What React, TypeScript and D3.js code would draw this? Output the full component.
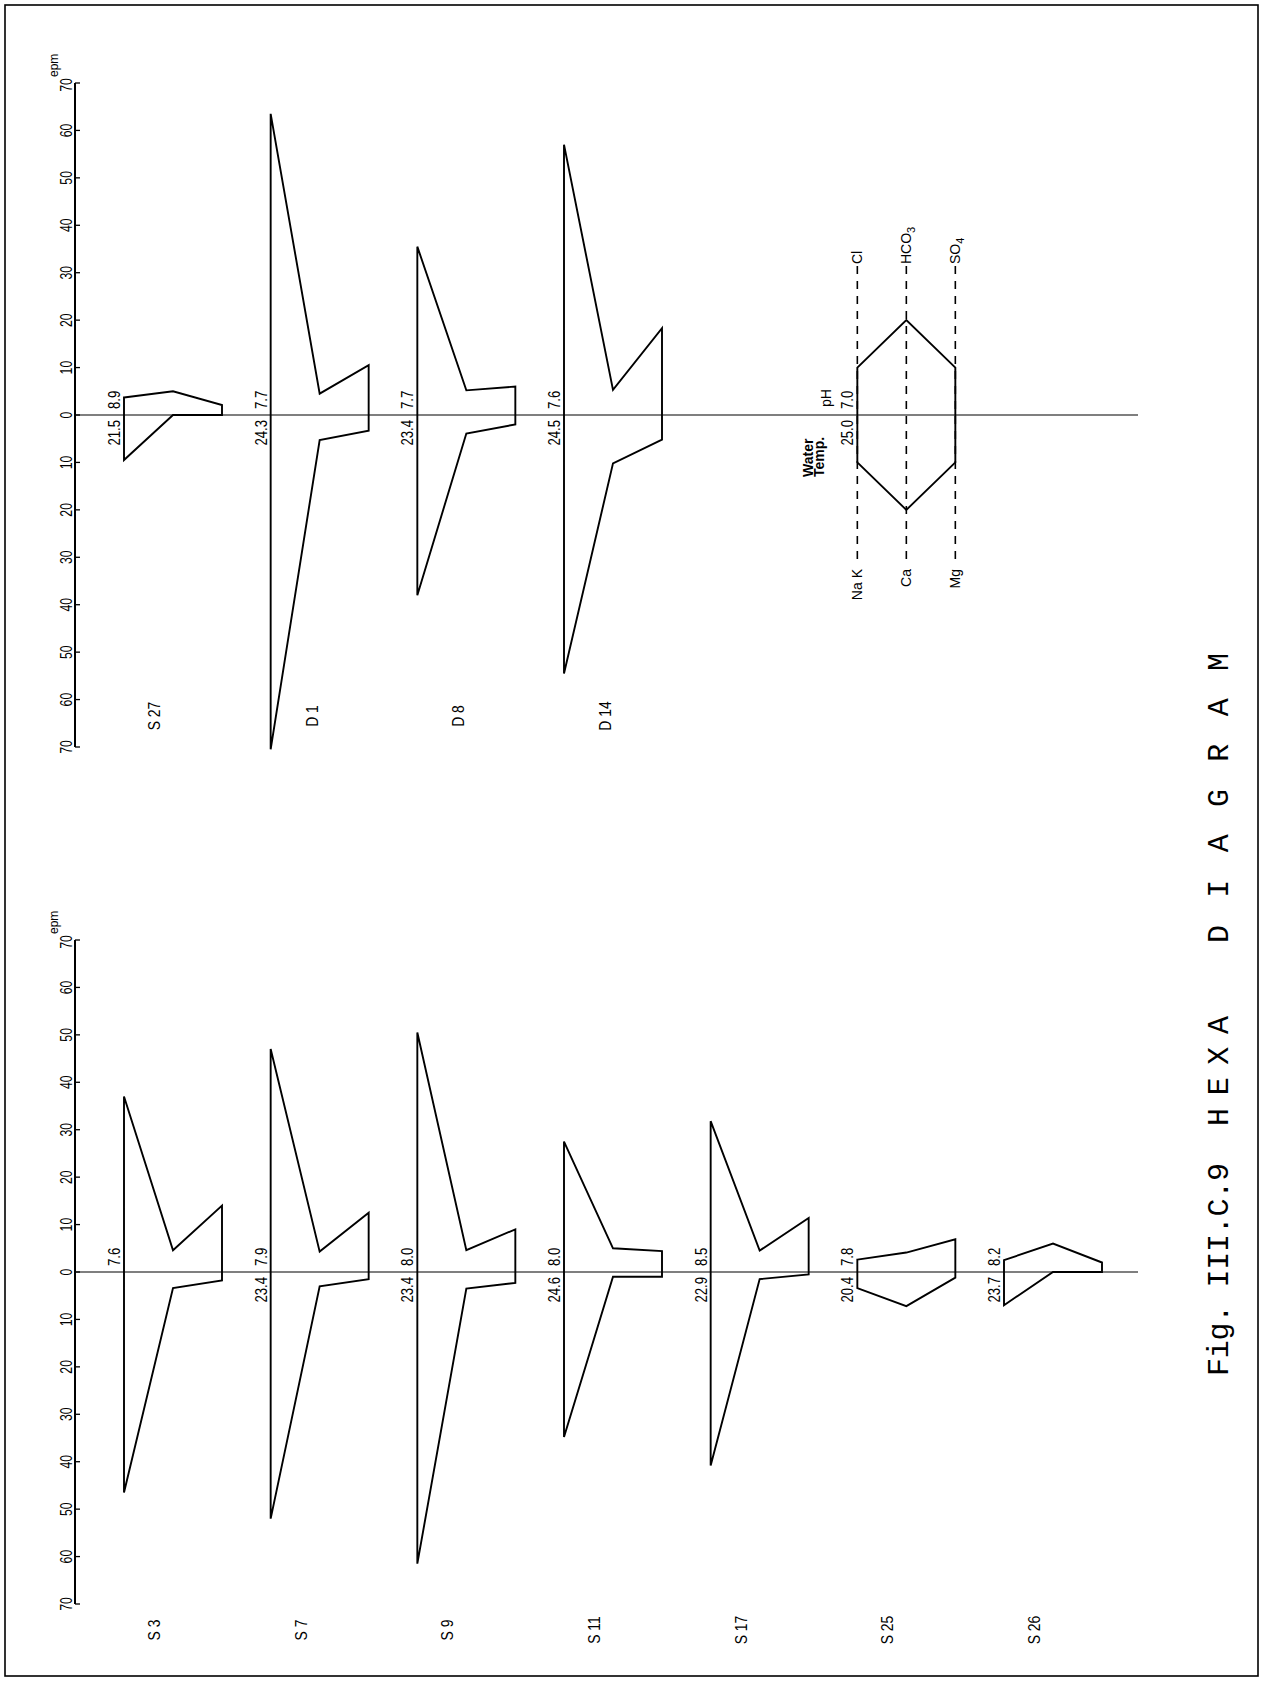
import React from "react";
import * as d3 from "d3";

const W = 1264;
const H = 1681;

// ---- data ----
const axisTicks = d3.range(-70, 71, 10);

const lowerNames = ["S 3", "S 7", "S 9", "S 11", "S 17", "S 25", "S 26"];
const lowerSlots = [0, 1, 2, 3, 4, 5, 6];
const lowerTemp = ["", "23.4", "23.4", "24.6", "22.9", "20.4", "23.7"];
const lowerPH = ["7.6", "7.9", "8.0", "8.0", "8.5", "7.8", "8.2"];
const lowerCl = [37, 47, 50.5, 27.5, 31.8, 2.6, 2.5];
const lowerHCO3 = [4.6, 4.3, 4.6, 5.0, 4.5, 4.1, 6.0];
const lowerSO4 = [14, 12.5, 9, 4.4, 11.4, 6.9, 2.0];
const lowerNaK = [46.5, 52, 61.5, 34.8, 40.8, 3.4, 7.0];
const lowerCa = [3.4, 3.0, 3.5, 1.0, 1.5, 7.2, 0];
const lowerMg = [1.8, 1.5, 2.3, 1.0, 0.5, 1.2, 0];

const upperNames = ["S 27", "D 1", "D 8", "D 14"];
const upperSlots = [0, 1, 2, 3];
const upperTemp = ["21.5", "24.3", "23.4", "24.5"];
const upperPH = ["8.9", "7.7", "7.7", "7.6"];
const upperCl = [3.7, 63.5, 35.5, 57];
const upperHCO3 = [5.0, 4.5, 5.2, 5.3];
const upperSO4 = [2.1, 10.5, 6.0, 18.3];
const upperNaK = [9.5, 70.5, 38, 54.5];
const upperCa = [0, 5.3, 3.9, 10.2];
const upperMg = [0, 3.3, 2.0, 5.2];

const legendSlot = 5;
const legendAnions = [10, 20, 10];
const legendCations = [10, 20, 10];
const legendTemp = "25.0";
const legendPH = "7.0";
const legendCationNames = ["Na K", "Ca", "Mg"];

// ---- layout ----
const AXIS_X = 75;
const LINE_END = 1138;
const HALF = 332;
const UPPER_ZERO = 415;
const LOWER_ZERO = 1272;

const slotX = d3.scaleLinear().domain([0, 6]).range([124, 1004]);
const levelX = d3.scaleLinear().domain([0, 2]).range([0, 98]);

const NUM_FONT = "'Liberation Sans', Arial, sans-serif";

function VText({ x, y, anchor = "start", size = 14, sx = 1, family = NUM_FONT, weight = "normal", children, textLength }: any) {
  return (
    <text
      transform={`translate(${x},${y}) rotate(-90) scale(${sx},1)`}
      textAnchor={anchor}
      fontSize={size}
      fontFamily={family}
      fontWeight={weight}
      fill="#000"
      textLength={textLength}
      lengthAdjust={textLength ? "spacing" : undefined}
    >
      {children}
    </text>
  );
}

function Axis({ zero }: { zero: number }) {
  const y = d3.scaleLinear().domain([-70, 70]).range([zero + HALF, zero - HALF]);
  return (
    <g>
      <line x1={AXIS_X} x2={AXIS_X} y1={y(70)} y2={y(-70)} stroke="#000" strokeWidth={2} />
      <line x1={AXIS_X} x2={LINE_END} y1={zero} y2={zero} stroke="#000" strokeWidth={1.2} />
      {axisTicks.map((t) => (
        <g key={t}>
          <line x1={AXIS_X} x2={AXIS_X + 5} y1={y(t)} y2={y(t)} stroke="#000" strokeWidth={1.3} />
          <VText x={AXIS_X - 3} y={y(t) + (t === 70 ? 2 : 0)} anchor="middle" size={17} sx={0.72}>
            {String(Math.abs(t))}
          </VText>
        </g>
      ))}
      <VText x={AXIS_X - 17} y={y(70) - 6} anchor="start" size={12}>
        epm
      </VText>
    </g>
  );
}

function Hexa({ zero, slot, an, cat, temp, ph, name, showName = true }: any) {
  const y = d3.scaleLinear().domain([-70, 70]).range([zero + HALF, zero - HALF]);
  const x0 = slotX(slot);
  const pts: [number, number][] = [
    [x0 + levelX(0), y(an[0])],
    [x0 + levelX(1), y(an[1])],
    [x0 + levelX(2), y(an[2])],
    [x0 + levelX(2), y(-cat[2])],
    [x0 + levelX(1), y(-cat[1])],
    [x0 + levelX(0), y(-cat[0])],
  ];
  const path = d3.line().curve(d3.curveLinearClosed)(pts) || "";
  const nameDx = name && name.startsWith("D") ? 47 : 36;
  return (
    <g>
      <path d={path} fill="none" stroke="#000" strokeWidth={1.9} strokeLinejoin="miter" />
      {temp ? (
        <VText x={x0 - 4} y={zero + 5} anchor="end" size={16} sx={0.82}>
          {temp}
        </VText>
      ) : null}
      {ph ? (
        <VText x={x0 - 4} y={zero - 6} anchor="start" size={16} sx={0.82}>
          {ph}
        </VText>
      ) : null}
      {showName && name ? (
        <VText x={x0 + nameDx} y={zero === UPPER_ZERO ? 716 : 1630} anchor="middle" size={17} sx={0.82}>
          {name}
        </VText>
      ) : null}
    </g>
  );
}

function Legend({ zero }: { zero: number }) {
  const x0 = slotX(legendSlot);
  const top = 266;
  const bottom = 566;
  const lf = "'Liberation Sans', Arial, sans-serif";
  return (
    <g>
      {[0, 1, 2].map((i) => (
        <line
          key={i}
          x1={x0 + levelX(i)}
          x2={x0 + levelX(i)}
          y1={top}
          y2={bottom}
          stroke="#000"
          strokeWidth={1.6}
          strokeDasharray="8 7"
        />
      ))}
      <Hexa zero={zero} slot={legendSlot} an={legendAnions} cat={legendCations} temp={legendTemp} ph={legendPH} showName={false} />
      {legendCationNames.map((n, i) => (
        <VText key={n} x={x0 + levelX(i) + 5} y={bottom + 3} anchor="end" size={14} family={lf}>
          {n}
        </VText>
      ))}
      <VText x={x0 + levelX(0) + 5} y={top - 2} anchor="start" size={14} family={lf}>
        Cl
      </VText>
      <text transform={`translate(${x0 + levelX(1) + 5},${top - 2}) rotate(-90)`} fontSize={14} fontFamily={lf}>
        HCO<tspan dy={4} fontSize={11}>3</tspan>
      </text>
      <text transform={`translate(${x0 + levelX(2) + 5},${top - 2}) rotate(-90)`} fontSize={14} fontFamily={lf}>
        SO<tspan dy={4} fontSize={11}>4</tspan>
      </text>
      <VText x={x0 - 44} y={zero + 62} anchor="start" size={14} family={lf} weight="bold">
        Water
      </VText>
      <VText x={x0 - 33} y={zero + 62} anchor="start" size={14} family={lf} weight="bold">
        Temp.
      </VText>
      <VText x={x0 - 26} y={zero - 8} anchor="start" size={14} family={lf}>
        pH
      </VText>
    </g>
  );
}

export default function App() {
  const mono = "'Liberation Mono', 'Courier New', monospace";
  return (
    <svg
      width={W}
      height={H}
      viewBox={`0 0 ${W} ${H}`}
      style={{ position: "absolute", left: 0, top: 0, background: "#fff" }}
    >
      <rect x={0} y={0} width={W} height={H} fill="#fff" />
      <rect x={5} y={5} width={1253} height={1671} fill="none" stroke="#000" strokeWidth={1.6} />

      <Axis zero={UPPER_ZERO} />
      <Axis zero={LOWER_ZERO} />

      {upperNames.map((n, i) => (
        <Hexa
          key={n}
          zero={UPPER_ZERO}
          slot={upperSlots[i]}
          an={[upperCl[i], upperHCO3[i], upperSO4[i]]}
          cat={[upperNaK[i], upperCa[i], upperMg[i]]}
          temp={upperTemp[i]}
          ph={upperPH[i]}
          name={n}
        />
      ))}
      <Legend zero={UPPER_ZERO} />

      {lowerNames.map((n, i) => (
        <Hexa
          key={n}
          zero={LOWER_ZERO}
          slot={lowerSlots[i]}
          an={[lowerCl[i], lowerHCO3[i], lowerSO4[i]]}
          cat={[lowerNaK[i], lowerCa[i], lowerMg[i]]}
          temp={lowerTemp[i]}
          ph={lowerPH[i]}
          name={n}
        />
      ))}

      <VText x={1228} y={1376} anchor="start" size={30} family={mono} textLength={213}>
        Fig. III.C.9
      </VText>
      <VText x={1228} y={1126} anchor="start" size={30} family={mono} textLength={110}>
        HEXA
      </VText>
      <VText x={1228} y={943} anchor="start" size={30} family={mono} textLength={290}>
        DIAGRAM
      </VText>
    </svg>
  );
}
